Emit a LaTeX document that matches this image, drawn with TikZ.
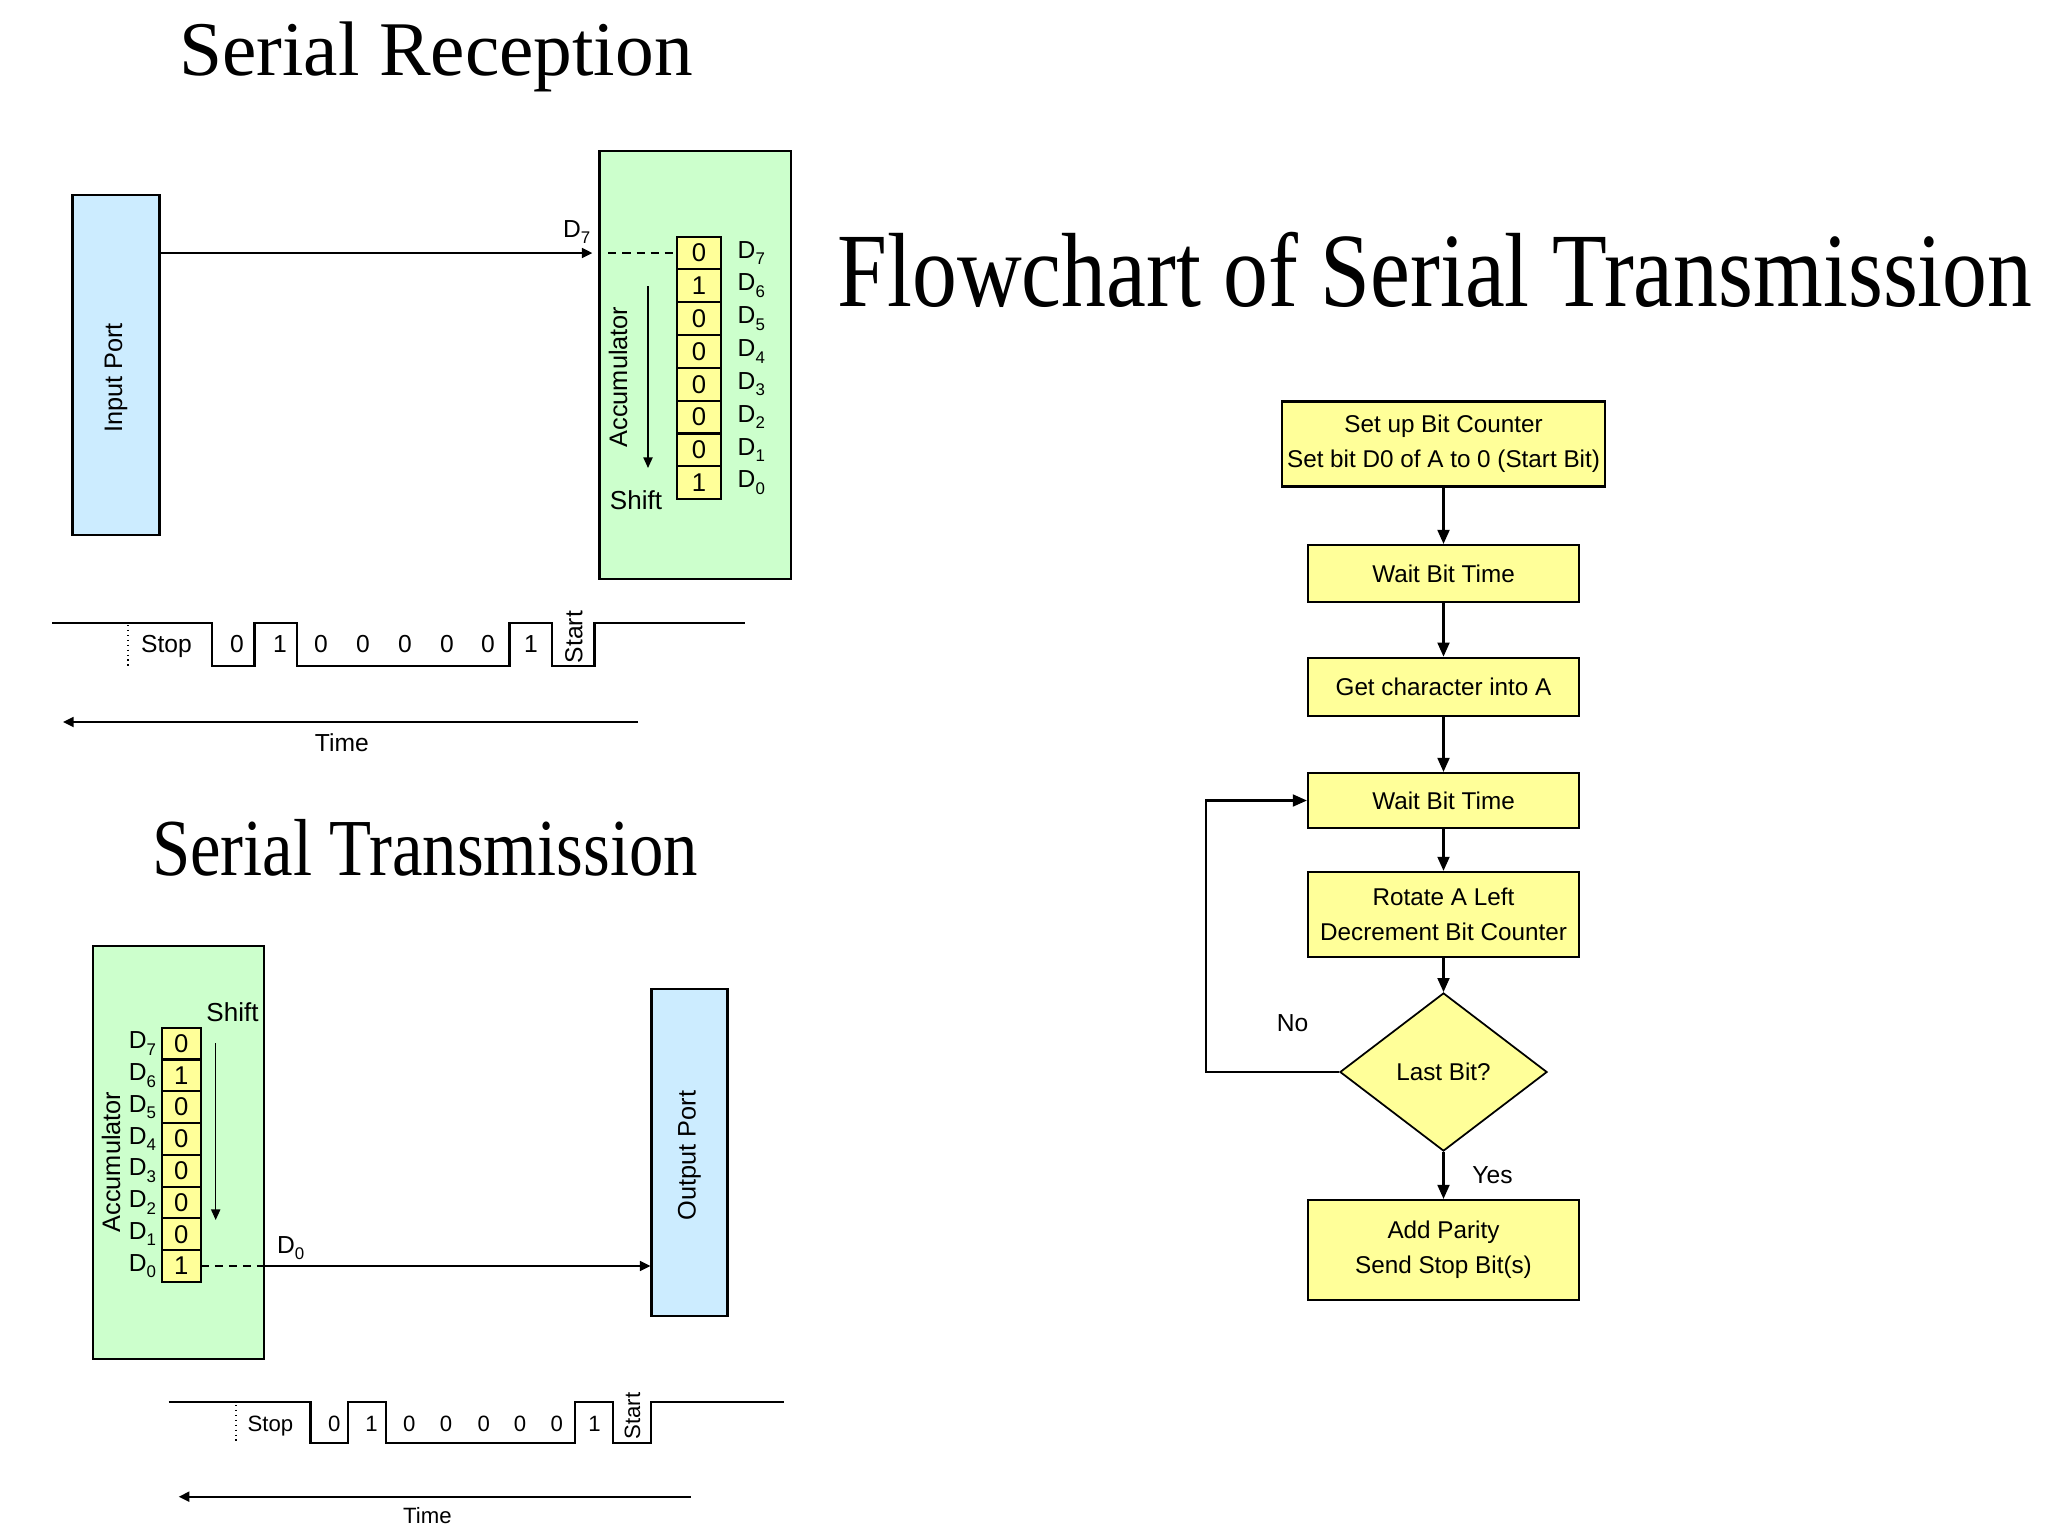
\documentclass[tikz,border=0pt]{standalone}
\usepackage{fontspec}
\usepackage{xcolor}
\usepackage{tikz}
\setmainfont{Liberation Sans}
\newfontfamily\headfont{Liberation Serif}
\newfontfamily\headnarrow[FakeStretch=0.85]{Liberation Serif}
\newfontfamily\flowheadfont[FakeStretch=0.85]{Liberation Serif}
\definecolor{portBlue}{HTML}{CCECFF}
\definecolor{accGreen}{HTML}{CCFFCC}
\definecolor{cellYellow}{HTML}{FFFF99}
\usetikzlibrary{arrows.meta,positioning,shapes.geometric}
\newcommand{\dsub}[1]{\raisebox{-0.5ex}{\fontsize{4.8}{5}\selectfont #1}}

\begin{document}
\begin{tikzpicture}[
  x=0.01cm, y=-0.01cm,
  font=\fontsize{7}{10}\selectfont,
  port/.style={draw=black, line width=0.6pt, fill=portBlue},
  accbox/.style={draw=black, line width=0.6pt, fill=accGreen},
  rxcell/.style={draw=black, line width=0.6pt, fill=cellYellow, minimum width=0.44cm, minimum height=0.328cm, inner sep=0pt, outer sep=0pt, font=\fontsize{7.3}{9}\selectfont},
  txcell/.style={rxcell, minimum width=0.39cm, minimum height=0.3175cm},
  dtag/.style={inner sep=0pt},
  vtext/.style={rotate=90, inner sep=0pt, font=\fontsize{7.2}{9}\selectfont},
  sig/.style={line width=0.6pt},
  sigArrow/.style={sig, -{Triangle[length=3pt,width=2.8pt]}},
  shiftArrow/.style={line width=0.4pt, -{Triangle[length=3pt,width=2.6pt]}},
  bitlbl/.style={anchor=base, inner sep=0pt},
  smallbit/.style={bitlbl, font=\fontsize{6.3}{8}\selectfont},
  flowbox/.style={draw=black, line width=0.6pt, fill=cellYellow, minimum width=2.71cm, align=center, inner sep=1pt, font=\fontsize{6.9}{10}\selectfont},
  decision/.style={diamond, draw=black, line width=0.5pt, fill=cellYellow, aspect=1.3, minimum width=2.07cm, minimum height=1.58cm, inner sep=1pt, font=\fontsize{6.9}{10}\selectfont},
  flowArrow/.style={line width=0.6pt, -{Triangle[length=4pt,width=3.4pt]}},
  heading/.style={anchor=base, inner sep=0pt}
]
\useasboundingbox (0,0) rectangle (2048,1536);

% Serial reception
\node[heading, font=\headfont\fontsize{22}{26}\selectfont] (rxTitle) at (436,75) {Serial Reception};
\node[port, minimum width=0.87cm, minimum height=3.39cm] (inPort) at (116,365) {};
\node[vtext] (inPortText) at (116,378) {Input Port};
\node[accbox, minimum width=1.91cm, minimum height=4.28cm] (accRx) at (695,365) {};
\node[vtext] (accRxText) at (618,377) {Accumulator};

\node[rxcell] (rx7) at (699,253) {0};
\node[rxcell, below=0pt of rx7] (rx6) {1};
\node[rxcell, below=0pt of rx6] (rx5) {0};
\node[rxcell, below=0pt of rx5] (rx4) {0};
\node[rxcell, below=0pt of rx4] (rx3) {0};
\node[rxcell, below=0pt of rx3] (rx2) {0};
\node[rxcell, below=0pt of rx2] (rx1) {0};
\node[rxcell, below=0pt of rx1] (rx0) {1};
\node[dtag, right=0.16cm of rx7] (rxd7) {D\dsub{7}};
\node[dtag, right=0.16cm of rx6] (rxd6) {D\dsub{6}};
\node[dtag, right=0.16cm of rx5] (rxd5) {D\dsub{5}};
\node[dtag, right=0.16cm of rx4] (rxd4) {D\dsub{4}};
\node[dtag, right=0.16cm of rx3] (rxd3) {D\dsub{3}};
\node[dtag, right=0.16cm of rx2] (rxd2) {D\dsub{2}};
\node[dtag, right=0.16cm of rx1] (rxd1) {D\dsub{1}};
\node[dtag, right=0.16cm of rx0] (rxd0) {D\dsub{0}};

\draw[sigArrow, shorten >=0.06cm] (inPort.east |- rx7.west) -- (accRx.west |- rx7.west)
  node[pos=1, anchor=south east, inner xsep=0.07cm, inner ysep=0.08cm] (rxD7) {D\dsub{7}};
\draw[sig, dash pattern=on 2.3pt off 1.7pt] ([xshift=0.1cm]accRx.west |- rx7.west) -- (rx7.west);

\coordinate (rxShiftTop) at (648,286);
\draw[shiftArrow] (rxShiftTop) -- ++(0,182);
\node[inner sep=0pt, font=\fontsize{7.4}{9}\selectfont] (rxShift) at (636,500) {Shift};

% Reception bit frame
\draw[sig] (52,623) -- (212,623) -- (212,666) -- (254.5,666) -- (254.5,623) -- (297,623) -- (297,666)
  -- (509.5,666) -- (509.5,623) -- (552,623) -- (552,666) -- (594.5,666) -- (594.5,623) -- (745,623);
\draw[densely dotted, line width=0.4pt] (128,625) -- (128,667);
\node[bitlbl] (rxStop) at (166.5,652.5) {Stop};
\node[bitlbl] (rxB0) at (237,652.5) {0};
\node[bitlbl] (rxB1) at (280,652.5) {1};
\node[bitlbl] (rxB2) at (321,652.5) {0};
\node[bitlbl] (rxB3) at (363,652.5) {0};
\node[bitlbl] (rxB4) at (405,652.5) {0};
\node[bitlbl] (rxB5) at (447,652.5) {0};
\node[bitlbl] (rxB6) at (488,652.5) {0};
\node[bitlbl] (rxB7) at (531,652.5) {1};
\node[rotate=90, inner sep=0pt] (rxStart) at (574,637) {Start};
\coordinate (rxTimeEnd) at (638,722);
\draw[sigArrow] (rxTimeEnd) -- ++(-575,0) node[pos=0.515, below, inner sep=0.11cm] (rxTime) {Time};

% Serial transmission
\node[heading, font=\headnarrow\fontsize{23}{27}\selectfont] (txTitle) at (425,875) {Serial Transmission};
\node[accbox, minimum width=1.713cm, minimum height=4.133cm] (accTx) at (178.4,1152.4) {};
\node[vtext] (accTxText) at (111,1162) {Accumulator};

\node[txcell] (tx7) at (181.2,1043.6) {0};
\node[txcell, below=0pt of tx7] (tx6) {1};
\node[txcell, below=0pt of tx6] (tx5) {0};
\node[txcell, below=0pt of tx5] (tx4) {0};
\node[txcell, below=0pt of tx4] (tx3) {0};
\node[txcell, below=0pt of tx3] (tx2) {0};
\node[txcell, below=0pt of tx2] (tx1) {0};
\node[txcell, below=0pt of tx1] (tx0) {1};
\node[dtag, left=0.05cm of tx7] (txd7) {D\dsub{7}};
\node[dtag, left=0.05cm of tx6] (txd6) {D\dsub{6}};
\node[dtag, left=0.05cm of tx5] (txd5) {D\dsub{5}};
\node[dtag, left=0.05cm of tx4] (txd4) {D\dsub{4}};
\node[dtag, left=0.05cm of tx3] (txd3) {D\dsub{3}};
\node[dtag, left=0.05cm of tx2] (txd2) {D\dsub{2}};
\node[dtag, left=0.05cm of tx1] (txd1) {D\dsub{1}};
\node[dtag, left=0.05cm of tx0] (txd0) {D\dsub{0}};

\node[port, minimum width=0.76cm, minimum height=3.27cm] (outPort) at (689.5,1152.5) {};
\node[vtext] (outPortText) at (689.5,1155.5) {Output Port};
\draw[sig, dash pattern=on 2.3pt off 1.7pt] (tx0.east) -- (accTx.east |- tx0.east);
\draw[sigArrow] (accTx.east |- tx0.east) -- (outPort.west |- tx0.east)
  node[pos=0, anchor=south west, inner xsep=0.11cm, inner ysep=0.05cm] (txD0) {D\dsub{0}};

\node[inner sep=0pt, font=\fontsize{7.4}{9}\selectfont] (txShift) at (232.5,1012) {Shift};
\coordinate (txShiftTop) at (215.7,1043);
\draw[shiftArrow] (txShiftTop) -- ++(0,177);

% Transmission bit frame
\draw[sig] (168.6,1402) -- (310.5,1402) -- (310.5,1443) -- (348.3,1443) -- (348.3,1402) -- (386.1,1402) -- (386.1,1443)
  -- (575.1,1443) -- (575.1,1402) -- (612.9,1402) -- (612.9,1443) -- (650.7,1443) -- (650.7,1402) -- (784,1402);
\draw[densely dotted, line width=0.4pt] (236,1405) -- (236,1443);
\node[smallbit] (txStop) at (270.5,1431) {Stop};
\node[smallbit] (txB0) at (334.4,1431) {0};
\node[smallbit] (txB1) at (371.5,1431) {1};
\node[smallbit] (txB2) at (409.4,1431) {0};
\node[smallbit] (txB3) at (446,1431) {0};
\node[smallbit] (txB4) at (483.9,1431) {0};
\node[smallbit] (txB5) at (520,1431) {0};
\node[smallbit] (txB6) at (556.7,1431) {0};
\node[smallbit] (txB7) at (594.5,1431) {1};
\node[rotate=90, inner sep=0pt, font=\fontsize{6.3}{8}\selectfont] (txStart) at (632.4,1416) {Start};
\coordinate (txTimeEnd) at (690.5,1496.7);
\draw[sigArrow] (txTimeEnd) -- ++(-511.8,0) node[pos=0.514, below, inner sep=0.1cm, font=\fontsize{6.3}{8}\selectfont] (txTime) {Time};

% Flowchart
\node[heading, font=\flowheadfont\fontsize{30}{34}\selectfont] (flowTitle) at (1435,306) {Flowchart of Serial Transmission};
\node[flowbox, minimum width=3.22cm, minimum height=0.85cm] (setup) at (1443.5,444) {Set up Bit Counter\\Set bit D0 of A to 0 (Start Bit)};
\node[flowbox, minimum height=0.57cm] (waitA) at (1443.5,573.5) {Wait Bit Time};
\node[flowbox, minimum height=0.58cm] (getChar) at (1443.5,686.7) {Get character into A};
\node[flowbox, minimum height=0.55cm] (waitB) at (1443.5,800.5) {Wait Bit Time};
\node[flowbox, minimum height=0.85cm] (rotateA) at (1443.5,914.4) {Rotate A Left\\Decrement Bit Counter};
\node[decision] (lastBit) at (1443.5,1072) {Last Bit?};
\node[flowbox, minimum height=1.0cm] (finish) at (1443.5,1250) {Add Parity\\Send Stop Bit(s)};

\draw[flowArrow] (setup) -- (waitA);
\draw[flowArrow] (waitA) -- (getChar);
\draw[flowArrow] (getChar) -- (waitB);
\draw[flowArrow] (waitB) -- (rotateA);
\draw[flowArrow] (rotateA) -- (lastBit);
\draw[flowArrow] (lastBit) -- (finish);
\draw[flowArrow] (lastBit.west) -- ++(-133,0) |- (waitB.west);
\node[inner sep=0pt] (noLabel) at (1292.5,1023) {No};
\node[inner sep=0pt] (yesLabel) at (1492.5,1175) {Yes};

\end{tikzpicture}
\end{document}
